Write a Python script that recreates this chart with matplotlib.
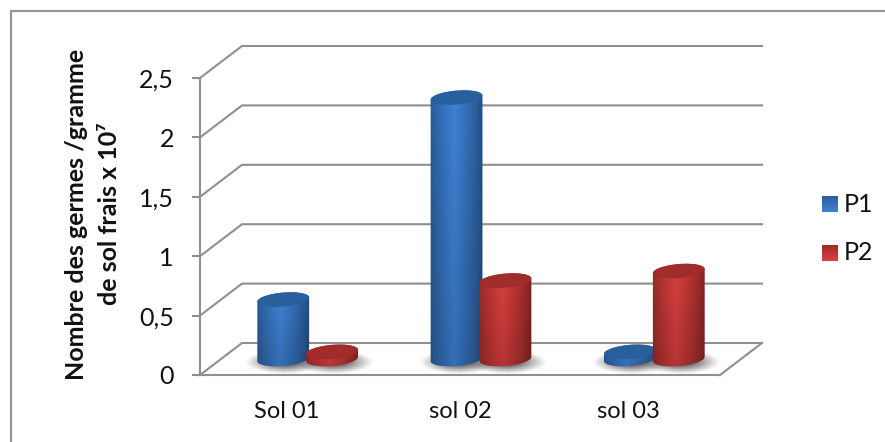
import numpy as np
import matplotlib
matplotlib.use('Agg')
import matplotlib.pyplot as plt
from matplotlib.path import Path
from matplotlib.transforms import IdentityTransform
from matplotlib.colors import to_rgb

categories = ['Sol 01', 'sol 02', 'sol 03']
category_label_pos = [0, 1, 1.97]
series_names = ['P1', 'P2']
p1_values = [0.50, 2.20, 0.06]
p2_values = [0.06, 0.66, 0.74]
y_ticks = [0, 0.5, 1, 1.5, 2, 2.5]
y_tick_labels = ['0', '0,5', '1', '1,5', '2', '2,5']

W, H = 885, 442
GRID = '#8f8f8f'
BLUE = ('#1f4877', '#3f82d6', '#2a5f9e')
RED = ('#7a1f1f', '#d8403e', '#a02c2b')

plt.rcParams['font.family'] = ['Lato', 'DejaVu Sans']
fig = plt.figure(figsize=(W / 100, H / 100), dpi=100)
# axes cover the front plane of the 3D box, everything else hangs off them
ax = fig.add_axes([200 / W, (H - 375) / H, 520 / W, 297 / H])
ax.set_xlim(-0.5, 2.5)
ax.set_ylim(0, 2.5)
ax.autoscale(False)
ax.patch.set_alpha(0)

for s in ['top', 'right']:
    ax.spines[s].set_visible(False)
for s in ['left', 'bottom']:
    ax.spines[s].set_color(GRID)
    ax.spines[s].set_linewidth(1.5)
ax.set_yticks(y_ticks)
ax.set_yticklabels(y_tick_labels, fontsize=18, color='#111111')
ax.set_xticks(category_label_pos)
ax.set_xticklabels(categories, fontsize=17, color='#111111')
ax.tick_params(axis='y', length=5.8, width=1.5, color=GRID, pad=13)
ax.tick_params(axis='x', length=0, pad=19)

# box walls: depth goes 42px right and 32px up
DX, DY = 42, 32
px = IdentityTransform()
for v in y_ticks:
    x0, y0 = ax.transData.transform((-0.5, v))
    x1, y1 = ax.transData.transform((2.5, v))
    ax.plot([x0, x0 + DX, x1 + DX], [y0, y0 + DY, y1 + DY], color=GRID, lw=1.5,
            transform=px, clip_on=False, zorder=1, solid_joinstyle='miter')
x1, y1 = ax.transData.transform((2.5, 0))
ax.plot([x1, x1 + DX], [y1, y1 + DY], color=GRID, lw=1.5, transform=px, clip_on=False, zorder=1)


def ellipse_pts(cx, cy, a, b, t0, t1, tilt=np.radians(5)):
    t = np.linspace(t0, t1, 40)
    x = a * np.cos(t) * np.cos(tilt) - b * np.sin(t) * np.sin(tilt)
    y = a * np.cos(t) * np.sin(tilt) + b * np.sin(t) * np.cos(tilt)
    return np.column_stack([cx + x, cy + y])


def draw_shadow(cx, cy):
    xs = np.linspace(-1, 1, 120)
    ys = np.linspace(-1, 1, 60)
    xx, yy = np.meshgrid(xs, ys)
    r = np.sqrt(xx ** 2 + yy ** 2)
    img = np.zeros((60, 120, 4))
    img[..., :3] = 0.28
    img[..., 3] = np.clip(1.2 * np.clip(1 - r, 0, 1) ** 1.1, 0, 0.85)
    ax.imshow(img, extent=(cx - 40, cx + 40, cy - 12, cy + 12), origin='lower',
              aspect='auto', transform=px, zorder=2, clip_on=False)


def draw_cylinder(cat, offset, value, colors, z):
    # base centre sits half way into the box depth
    base_x, base_y = ax.transData.transform((cat + offset, 0))
    top_y = ax.transData.transform((cat + offset, value))[1] + DY / 2
    base_x += DX / 2
    base_y += DY / 2
    half = 26
    b = 7
    edge, mid, cap = [np.array(to_rgb(c)) for c in colors]

    u = np.linspace(-1, 1, 104)
    shade = (1 - np.abs(u + 0.1) / 1.1) ** 0.7
    v = np.linspace(0.84, 1.0, 40)
    img = np.zeros((40, 104, 3))
    for i in range(40):
        img[i] = (edge + (mid - edge) * shade[:, None]) * v[i]

    outline = np.vstack([ellipse_pts(base_x, base_y, half, b, np.pi, 2 * np.pi),
                         ellipse_pts(base_x, top_y, half, b, 0, np.pi)])
    body = ax.imshow(img, extent=(base_x - half - 1, base_x + half + 1, base_y - b - 3, top_y + b + 3),
                     origin='lower', aspect='auto', transform=px, zorder=z, clip_on=True)
    body.set_clip_path(Path(outline, closed=False), px)

    top = ellipse_pts(base_x, top_y, half, b, 0, 2 * np.pi)
    ax.fill(top[:, 0], top[:, 1], color=cap, lw=0, transform=px, zorder=z + 0.5, clip_on=False)


for i in range(len(categories)):
    for off in (-0.141, 0.141):
        bx, by = ax.transData.transform((i + off, 0))
        draw_shadow(bx + DX / 2 + 2, by + DY / 2 - 3)

z = 3
for i in range(len(categories)):
    draw_cylinder(i, -0.141, p1_values[i], BLUE, z)
    draw_cylinder(i, 0.141, p2_values[i], RED, z + 1)
    z += 2

# legend swatches with a soft top to bottom fade
for name, colors, py in zip(series_names, (BLUE, RED), (204, 253)):
    mid = np.array(to_rgb(colors[1]))
    low = np.array(to_rgb(colors[2]))
    ramp = np.linspace(0, 1, 16)[:, None, None] * (mid - low) + low
    ax.imshow(ramp[::-1], extent=(822, 838, H - py - 8, H - py + 8), origin='lower', aspect='auto',
              transform=px, clip_on=False, zorder=5)
    fig.text(844 / W, (H - py) / H, name, fontsize=18, color='#111111', va='center', ha='left')

fig.text(93 / W, (H - 214) / H, 'Nombre des germes /gramme\nde sol frais x 10\u2077', rotation=90,
         fontsize=18, fontweight='bold', color='#111111', ha='center', va='center',
         multialignment='center', linespacing=1.5)

# chart frame only shows on the top and left
fig.add_artist(plt.Line2D([11 / W, 11 / W, 1], [0, (H - 11) / H, (H - 11) / H], color='#969696', lw=1.6))

fig.savefig('out.png', dpi=100)
